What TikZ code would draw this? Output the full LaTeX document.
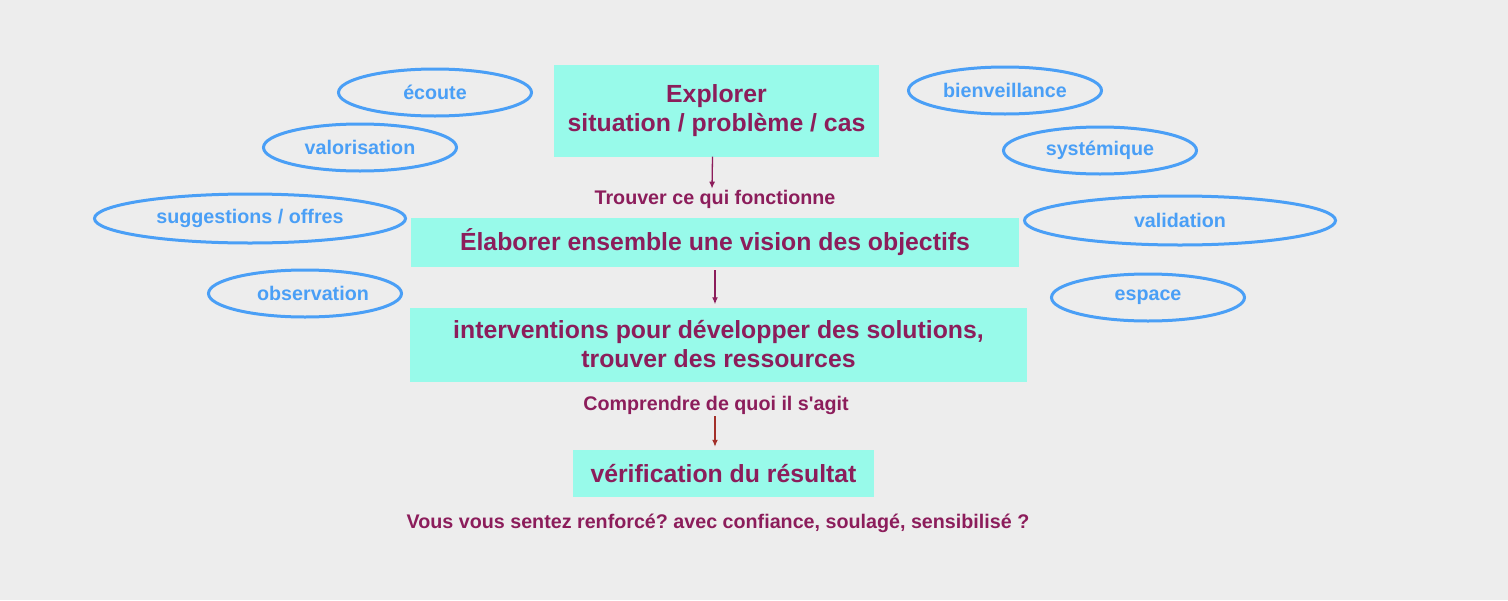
\documentclass[tikz,border=0pt]{standalone}
\usepackage{fontspec}
\setmainfont{Liberation Sans}
\usetikzlibrary{arrows.meta, positioning, shapes.geometric}
\definecolor{paper}{HTML}{EDEDED}
\definecolor{aqua}{HTML}{98FAEA}
\definecolor{plum}{HTML}{8C1D5B}
\definecolor{sky}{HTML}{4A9FF6}
\definecolor{rust}{HTML}{A3302A}
\frenchspacing

\begin{document}
\begin{tikzpicture}[
    x=1pt, y=-1pt,
    stepbox/.style={fill=aqua, text=plum, align=center, inner sep=0pt,
        font=\bfseries\fontsize{24.8}{29}\selectfont},
    idea/.style={ellipse, draw=sky, line width=3pt, text=sky, inner sep=0pt,
        minimum width=193pt, minimum height=47pt,
        font=\bfseries\fontsize{19.7}{22}\selectfont},
    wide/.style={minimum width=311pt, minimum height=49pt},
    hint/.style={text=plum, inner sep=0pt, font=\bfseries\fontsize{19.7}{22}\selectfont},
    >={Latex[length=7pt, width=6pt]}
]

\fill[paper] (0,0) rectangle (1508,600);

% main steps
\node[stepbox, minimum width=325pt, minimum height=92pt] (explore) at (716.5,110.5) {Explorer\\situation / problème / cas};
\node[hint] (works) at (715,199) {Trouver ce qui fonctionne};
\node[stepbox, minimum width=608pt, minimum height=49pt] (vision) at (715,242.5) {Élaborer ensemble une vision des objectifs};
\node[stepbox, minimum width=617pt, minimum height=74pt] (act) at (718.5,344.5) {interventions pour développer des solutions,\\trouver des ressources};
\node[hint] (grasp) at (716,405) {Comprendre de quoi il s\textquotesingle agit};
\node[stepbox, minimum width=301pt, minimum height=47pt] (check) at (723.5,473.5) {vérification du résultat};
\node[hint] (feel) at (718,523) {Vous vous sentez renforcé? avec confiance, soulagé, sensibilisé ?};

% attitudes, left
\node[idea] (listen) at (435,92.5) {écoute};
\node[idea] (value) at (360,147.5) {valorisation};
\node[idea, wide] (offer) at (250,218.5) {suggestions / offres};
\node[idea] (observe) at (305,293.5) {\hspace*{16pt}observation};

% attitudes, right
\node[idea] (care) at (1005,90.5) {bienveillance};
\node[idea] (system) at (1100,150.5) {systémique};
\node[idea, wide] (valid) at (1180,220.5) {validation};
\node[idea] (room) at (1148,297.5) {espace};

% flow
\draw[->, plum, line width=1.3pt, shorten >=1pt] ([xshift=-4pt]explore.south) -- ([xshift=-3pt]works.north);
\draw[->, plum, line width=1.3pt, shorten <=3pt, shorten >=3pt] (vision.south) -- (act.north -| vision.south);
\draw[->, rust, line width=1.3pt, shorten <=2pt, shorten >=3pt] ([xshift=-1pt]grasp.south) -- ([xshift=-1pt]check.north -| grasp.south);

\end{tikzpicture}
\end{document}
